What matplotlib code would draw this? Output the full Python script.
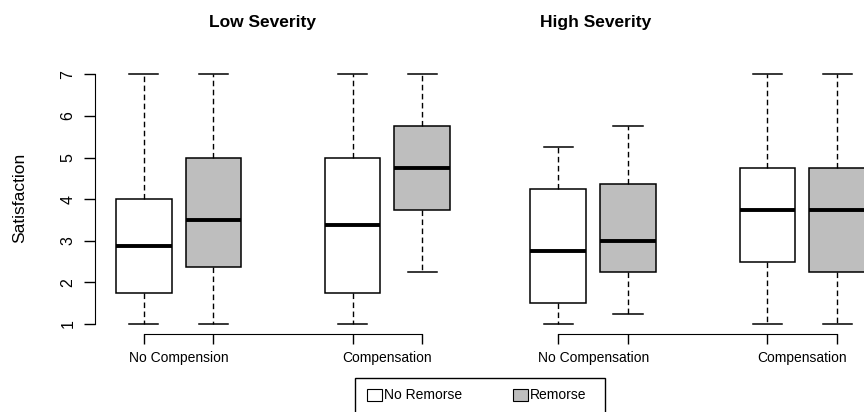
import matplotlib
matplotlib.use('Agg')
import matplotlib.pyplot as plt
from matplotlib.patches import Rectangle

plt.rcParams['font.family'] = ['Liberation Sans', 'DejaVu Sans']

positions = [1, 2, 4, 5]
seriesNames = ['No Remorse', 'Remorse']
seriesColors = ['white', '#bebebe']
yTicks = [1, 2, 3, 4, 5, 6, 7]

# Low severity panel (box order: NoComp/NoRem, NoComp/Rem, Comp/NoRem, Comp/Rem)
lowLabels = ['No Compension', 'Compensation']
lowWhisLo = [1, 1, 1, 2.25]
lowQ1 = [1.75, 2.375, 1.75, 3.75]
lowMed = [2.875, 3.5, 3.375, 4.75]
lowQ3 = [4, 5, 5, 5.75]
lowWhisHi = [7, 7, 7, 7]

# High severity panel
highLabels = ['No Compensation', 'Compensation']
highWhisLo = [1, 1.25, 1, 1]
highQ1 = [1.5, 2.25, 2.5, 2.25]
highMed = [2.75, 3, 3.75, 3.75]
highQ3 = [4.25, 4.375, 4.75, 4.75]
highWhisHi = [5.25, 5.75, 7, 7]

W, H = 864, 412
fig = plt.figure(figsize=(W / 100, H / 100), dpi=100)


def px(x0, y0, x1, y1):
    # pixel box (top-left origin) -> figure fraction rect
    return [x0 / W, 1 - y1 / H, (x1 - x0) / W, (y1 - y0) / H]


def drawPanel(rect, groupLabels, whisLo, q1, med, q3, whisHi, showY):
    ax = fig.add_axes(rect)
    stats = []
    for i in range(len(med)):
        stats.append({'whislo': whisLo[i], 'q1': q1[i], 'med': med[i],
                      'q3': q3[i], 'whishi': whisHi[i], 'fliers': []})
    bp = ax.bxp(stats, positions=positions, widths=0.8, capwidths=0.42,
                patch_artist=True, showfliers=False, manage_ticks=False,
                boxprops=dict(edgecolor='black', linewidth=1.1),
                whiskerprops=dict(color='black', linewidth=1.0, linestyle=(0, (4, 2.5))),
                capprops=dict(color='black', linewidth=1.1),
                medianprops=dict(color='black', linewidth=2.8, solid_capstyle='butt'))
    colors = seriesColors * (len(med) // 2)
    for box, c in zip(bp['boxes'], colors):
        box.set_facecolor(c)

    ax.set_xlim(0.3, 5.7)
    ax.set_ylim(0.76, 7.24)
    ax.spines['top'].set_visible(False)
    ax.spines['right'].set_visible(False)
    ax.spines['bottom'].set_bounds(positions[0], positions[-1])

    ax.set_xticks(positions)
    ax.set_xticklabels([])
    ax.set_xticks([1.5, 4.5], minor=True)
    ax.set_xticklabels(groupLabels, minor=True, fontsize=10)
    ax.tick_params(axis='x', which='major', length=7.5, width=1)
    ax.tick_params(axis='x', which='minor', length=0, pad=12)

    if showY:
        ax.spines['left'].set_bounds(yTicks[0], yTicks[-1])
        ax.set_yticks(yTicks)
        ax.set_yticklabels([str(t) for t in yTicks], fontsize=11.5, rotation=90, va='center')
        ax.tick_params(axis='y', length=8, width=1, pad=6)
    else:
        ax.spines['left'].set_visible(False)
        ax.set_yticks([])
    return ax


drawPanel(px(95, 64.3, 471, 334), lowLabels, lowWhisLo, lowQ1, lowMed, lowQ3, lowWhisHi, True)
drawPanel(px(509.5, 64.3, 886, 334), highLabels, highWhisLo, highQ1, highMed, highQ3, highWhisHi, False)

fig.text(262.5 / W, 1 - 23 / H, 'Low Severity', fontsize=12.5, fontweight='bold', ha='center', va='center')
fig.text(596 / W, 1 - 23 / H, 'High Severity', fontsize=12.5, fontweight='bold', ha='center', va='center')
fig.text(19.5 / W, 1 - 198 / H, 'Satisfaction', fontsize=12.5, rotation=90, ha='center', va='center')

# legend box, cut off by the bottom edge like in the original
fig.patches.append(Rectangle((355 / W, 1 - 430 / H), 250 / W, 52 / H, transform=fig.transFigure,
                             fill=False, edgecolor='black', linewidth=1))
for name, color, x in zip(seriesNames, seriesColors, [367, 513]):
    fig.patches.append(Rectangle((x / W, 1 - 401 / H), 15 / W, 12 / H, transform=fig.transFigure,
                                 facecolor=color, edgecolor='black', linewidth=0.8))
    fig.text((x + 17) / W, 1 - 395 / H, name, fontsize=10, ha='left', va='center')

fig.savefig('out.png', dpi=100)
